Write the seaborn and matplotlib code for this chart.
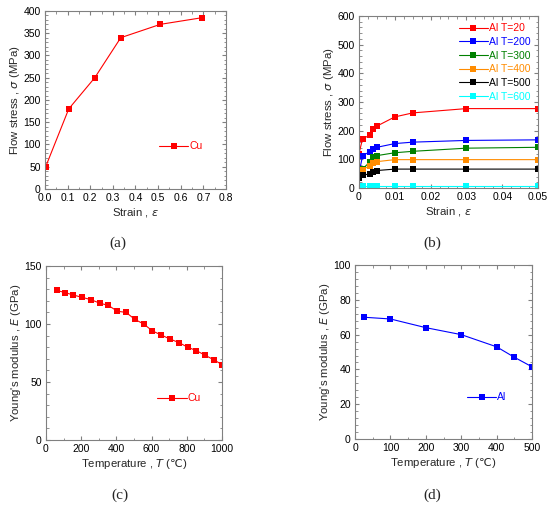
import pandas as pd
import seaborn as sns
import matplotlib.pyplot as plt
from matplotlib.ticker import AutoMinorLocator, MultipleLocator, FuncFormatter

# (a) Cu flow stress vs strain
cu_strain = [0.003, 0.105, 0.22, 0.335, 0.51, 0.695]
cu_stress = [50, 180, 250, 340, 370, 385]

# (b) Al flow stress vs strain at several temperatures
al_strain = [0.0, 0.001, 0.003, 0.004, 0.005, 0.010, 0.015, 0.030, 0.050]
al_t20 = [120, 172, 184, 206, 216, 248, 262, 277, 277]
al_t200 = [52, 112, 127, 135, 142, 155, 160, 166, 168]
al_t300 = [46, 67, 90, 108, 113, 123, 128, 139, 142]
al_t400 = [43, 64, 78, 88, 92, 99, 99, 99, 99]
al_t500 = [35, 44, 50, 55, 61, 66, 66, 66, 66]
al_t600 = [7, 7, 7, 7, 7, 7, 7, 7, 7]
al_labels = ['Al T=20', 'Al T=200', 'Al T=300', 'Al T=400', 'Al T=500', 'Al T=600']
al_colors = ['#ff0000', '#0000ff', '#008000', '#ff8c00', '#000000', '#00ffff']

# (c) Cu Young's modulus vs temperature
cu_temp = [60, 110, 155, 205, 255, 305, 355, 405, 455, 505, 555, 605, 655, 705, 755, 805, 855, 905, 955, 1000]
cu_E = [129, 127, 125, 123, 121, 118, 116, 111, 110, 104, 100, 94, 90.5, 87, 84, 80, 77, 73, 69, 65]

# (d) Al Young's modulus vs temperature
al_temp = [25, 100, 200, 300, 400, 450, 500]
al_E = [70, 69, 64, 60, 53, 47, 41.5]

sns.set_style('ticks')
plt.rcParams['font.family'] = ['Liberation Sans', 'DejaVu Sans']
plt.rcParams['mathtext.fontset'] = 'dejavusans'

fig = plt.figure(figsize=(5.5, 5.09), dpi=100)
ax_a = fig.add_axes([0.0818, 0.6287, 0.329, 0.3497])
ax_b = fig.add_axes([0.6527, 0.6306, 0.3255, 0.338])
ax_c = fig.add_axes([0.0836, 0.1356, 0.32, 0.3418])
ax_d = fig.add_axes([0.6455, 0.1375, 0.3218, 0.3418])

fs = 7.5
lfs = 8.2
ms = 4.3
t_label = 'Temperature , $T$ ($\\mathrm{\u2103}$)'
e_label = "Young's modulus , $E$ (GPa)"
s_label = 'Flow stress , $\\sigma$ (MPa)'
x_label = 'Strain , $\\varepsilon$'


def style_axes(ax):
    for sp in ax.spines.values():
        sp.set_color('#808080')
        sp.set_linewidth(0.8)
    ax.tick_params(which='both', direction='in', top=True, right=True,
                   color='#808080', labelsize=fs, labelcolor='black')
    ax.tick_params(axis='x', which='both', pad=3)
    ax.tick_params(axis='y', which='both', pad=3)
    ax.tick_params(which='major', length=3)
    ax.tick_params(which='minor', length=1.8)
    ax.xaxis.set_minor_locator(AutoMinorLocator(2))
    ax.yaxis.set_minor_locator(AutoMinorLocator(5))


def color_legend(ax, colors, **kw):
    leg = ax.legend(frameon=False, fontsize=fs, handlelength=2.8,
                    handletextpad=0.1, labelspacing=0.35, **kw)
    for txt, c in zip(leg.get_texts(), colors):
        txt.set_color(c)
    return leg


# (a)
sns.lineplot(x=cu_strain, y=cu_stress, ax=ax_a, color='#ff0000', marker='s',
             markersize=ms, markeredgewidth=0, linewidth=0.8, label='Cu')
ax_a.set_xlim(0, 0.8)
ax_a.set_ylim(0, 400)
ax_a.xaxis.set_major_locator(MultipleLocator(0.1))
ax_a.yaxis.set_major_locator(MultipleLocator(50))
ax_a.set_xlabel(x_label, fontsize=lfs, labelpad=2)
ax_a.set_ylabel(s_label, fontsize=lfs, labelpad=1)
style_axes(ax_a)
color_legend(ax_a, ['#ff0000'], loc='center left', bbox_to_anchor=(0.58, 0.24))

# (b)
rows = []
for lab, vals in zip(al_labels, [al_t20, al_t200, al_t300, al_t400, al_t500, al_t600]):
    for s, v in zip(al_strain, vals):
        rows.append({'strain': s, 'stress': v, 'series': lab})
df_b = pd.DataFrame(rows)
sns.lineplot(data=df_b, x='strain', y='stress', hue='series', hue_order=al_labels,
             palette=al_colors, ax=ax_b, marker='s', markersize=ms - 0.3,
             markeredgewidth=0, linewidth=0.8, estimator=None, sort=False)
ax_b.set_xlim(0, 0.05)
ax_b.set_ylim(0, 600)
ax_b.xaxis.set_major_locator(MultipleLocator(0.01))
ax_b.yaxis.set_major_locator(MultipleLocator(100))
ax_b.xaxis.set_major_formatter(FuncFormatter(lambda v, p: '0' if abs(v) < 1e-9 else f'{v:.2f}'))
ax_b.set_xlabel(x_label, fontsize=lfs, labelpad=2)
ax_b.set_ylabel(s_label, fontsize=lfs, labelpad=1)
style_axes(ax_b)
ax_b.xaxis.set_minor_locator(MultipleLocator(0.0025))
color_legend(ax_b, al_colors, loc='upper right', bbox_to_anchor=(1.0, 1.0),
             borderaxespad=0.3)
ax_b.get_legend().set_title(None)

# (c)
sns.lineplot(x=cu_temp, y=cu_E, ax=ax_c, color='#ff0000', marker='s',
             markersize=ms + 0.3, markeredgewidth=0, linewidth=0.8, label='Cu')
ax_c.set_xlim(0, 1000)
ax_c.set_ylim(0, 150)
ax_c.xaxis.set_major_locator(MultipleLocator(200))
ax_c.yaxis.set_major_locator(MultipleLocator(50))
ax_c.set_xlabel(t_label, fontsize=lfs, labelpad=2)
ax_c.set_ylabel(e_label, fontsize=lfs, labelpad=1)
style_axes(ax_c)
color_legend(ax_c, ['#ff0000'], loc='center left', bbox_to_anchor=(0.58, 0.24))

# (d)
sns.lineplot(x=al_temp, y=al_E, ax=ax_d, color='#0000ff', marker='s',
             markersize=ms, markeredgewidth=0, linewidth=0.8, label='Al')
ax_d.set_xlim(0, 500)
ax_d.set_ylim(0, 100)
ax_d.xaxis.set_major_locator(MultipleLocator(100))
ax_d.yaxis.set_major_locator(MultipleLocator(20))
ax_d.set_xlabel(t_label, fontsize=lfs, labelpad=2)
ax_d.set_ylabel(e_label, fontsize=lfs, labelpad=1)
style_axes(ax_d)
color_legend(ax_d, ['#0000ff'], loc='center left', bbox_to_anchor=(0.58, 0.24))

# panel labels
for txt, x, y in [('(a)', 118, 243), ('(b)', 432, 243), ('(c)', 120, 495), ('(d)', 432, 495)]:
    fig.text(x / 550, 1 - y / 509, txt, ha='center', va='center',
             fontsize=11, family=['Liberation Serif', 'DejaVu Serif'])

fig.savefig('out.png', dpi=100)
